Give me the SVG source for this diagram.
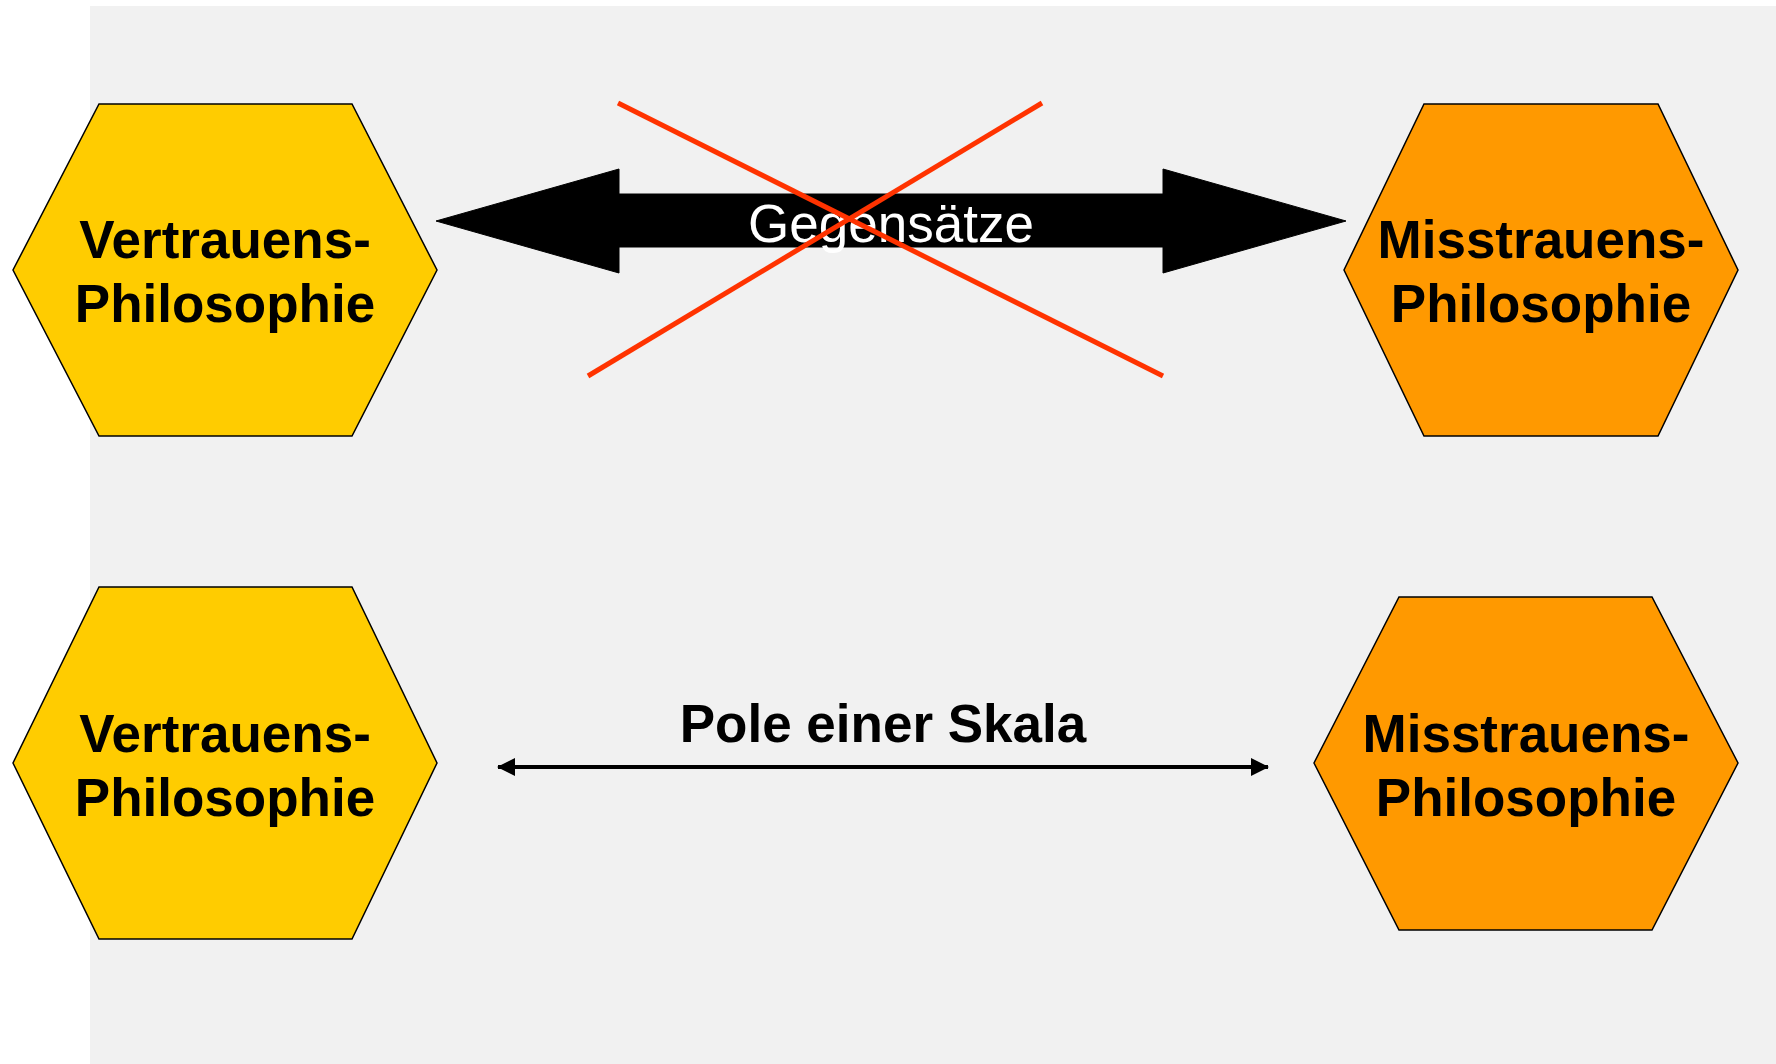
<svg xmlns="http://www.w3.org/2000/svg" width="1776" height="1064" viewBox="0 0 1776 1064">
  <defs>
    <style>
      .hex { stroke: #000000; stroke-width: 1.5; stroke-linejoin: miter; }
      .trust { fill: #FFCC00; }
      .distrust { fill: #FF9900; }
      .label { font-family: "Liberation Sans", Arial, sans-serif; font-weight: bold; font-size: 53px; fill: #000000; text-anchor: middle; }
      .cross { stroke: #FF3300; stroke-width: 5; fill: none; }
    </style>
    <marker id="tip" viewBox="0 0 18 18" refX="17" refY="9" markerWidth="18" markerHeight="18" markerUnits="userSpaceOnUse" orient="auto-start-reverse">
      <path d="M0,0 L18,9 L0,18 Z" fill="#000000"/>
    </marker>
  </defs>
  <rect x="0" y="0" width="1776" height="1064" fill="#FFFFFF"/>
  <rect x="90" y="6" width="1686" height="1058" fill="#F1F1F1"/>

  <g id="vertrauen-top">
    <polygon class="hex trust" points="99,104 352,104 437,270 352,436 99,436 13,270"/>
    <text class="label" x="225" y="258">Vertrauens-</text>
    <text class="label" x="225" y="322">Philosophie</text>
  </g>

  <g id="misstrauen-top">
    <polygon class="hex distrust" points="1424,104 1658,104 1738,270 1658,436 1424,436 1344,270"/>
    <text class="label" x="1541" y="258">Misstrauens-</text>
    <text class="label" x="1541" y="322">Philosophie</text>
  </g>

  <g id="vertrauen-bottom">
    <polygon class="hex trust" points="99,587 352,587 437,763 352,939 99,939 13,763"/>
    <text class="label" x="225" y="752">Vertrauens-</text>
    <text class="label" x="225" y="816">Philosophie</text>
  </g>

  <g id="misstrauen-bottom">
    <polygon class="hex distrust" points="1399,597 1652,597 1738,763 1652,930 1399,930 1314,763"/>
    <text class="label" x="1526" y="752">Misstrauens-</text>
    <text class="label" x="1526" y="816">Philosophie</text>
  </g>

  <g id="connectors">
    <g id="gegensaetze">
      <polygon points="436,221 619,169 619,194 1163,194 1163,169 1346,221 1163,273 1163,247 619,247 619,273" fill="#000000" stroke="#000000" stroke-width="1" stroke-linejoin="round"/>
      <text x="891" y="242" font-family="'Liberation Sans', Arial, sans-serif" font-size="53" fill="#FFFFFF" text-anchor="middle">Gegensätze</text>
      <line class="cross" x1="618" y1="103" x2="1163" y2="376"/>
      <line class="cross" x1="1042" y1="103" x2="588" y2="376"/>
    </g>
    <g id="skala">
      <line x1="498" y1="767" x2="1268" y2="767" stroke="#000000" stroke-width="4" marker-start="url(#tip)" marker-end="url(#tip)"/>
      <text class="label" x="883" y="742">Pole einer Skala</text>
    </g>
  </g>
</svg>
